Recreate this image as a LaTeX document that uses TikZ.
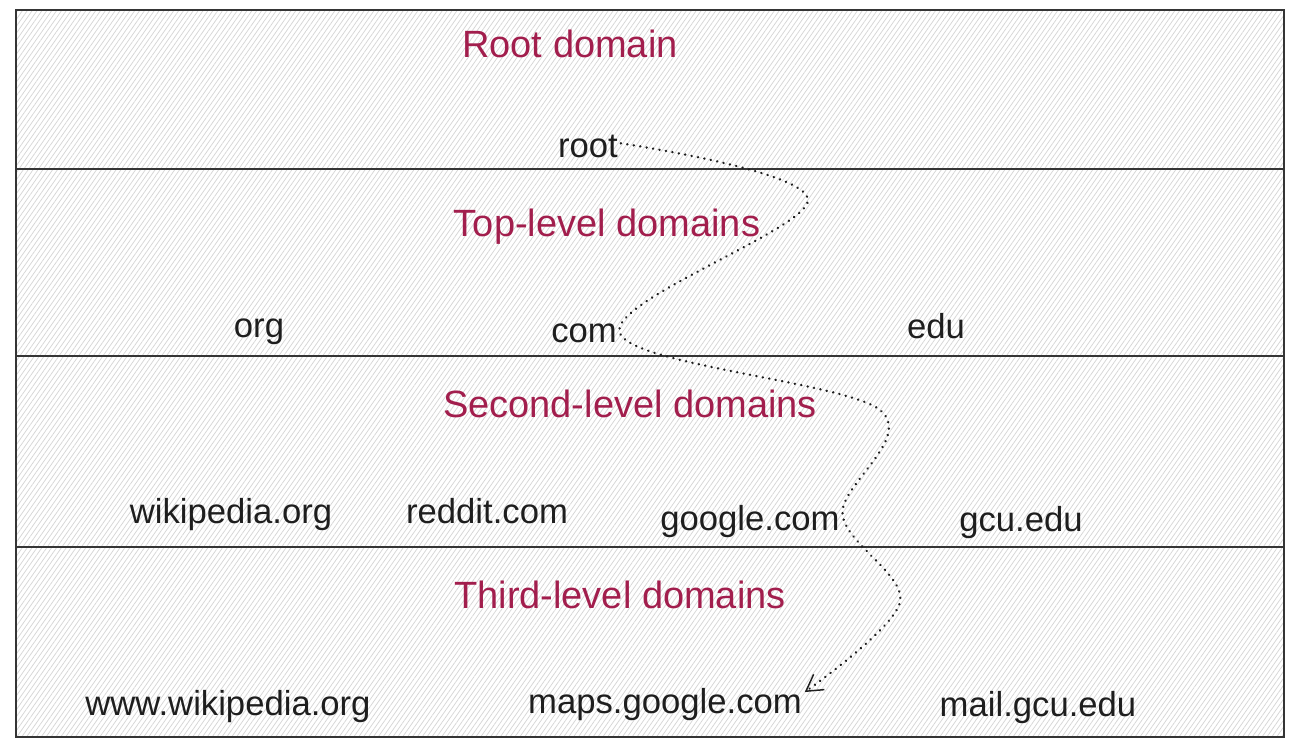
\documentclass[tikz,border=0pt]{standalone}
\usepackage{fontspec}
\setmainfont{Liberation Sans}
\usetikzlibrary{patterns.meta,arrows.meta}
\definecolor{crim}{HTML}{A21E4D}
\definecolor{ink}{HTML}{1E1E1E}
\begin{document}
\begin{tikzpicture}[x=0.75pt,y=-0.75pt,
  band/.style={draw=ink!90,line width=1.2pt,
    pattern={Lines[angle=55,distance=3pt,line width=0.55pt]},pattern color=gray!32},
  title/.style={anchor=base,text=crim,font=\fontsize{28.5}{32}\selectfont,inner sep=2pt},
  lbl/.style={anchor=base,text=ink,font=\fontsize{26}{30}\selectfont,inner sep=2pt},
  link/.style={ink,line width=1.9pt,dash pattern=on 0.1pt off 4.8pt,line cap=round}]
\useasboundingbox (0,0) rectangle (1300,747);
\fill[white] (0,0) rectangle (1300,747);
\draw[band] (16,10) rectangle (1284,169);
\draw[band] (16,169) rectangle (1284,356);
\draw[band] (16,356) rectangle (1284,547);
\draw[band] (16,547) rectangle (1284,737);

\node[title] (t1) at (570,57) {Root domain};
\node[lbl] (root) at (588,157) {root};
\node[title] (t2) at (607,236) {Top-level domains};
\node[lbl] (org) at (259,337) {org};
\node[lbl] (com) at (584,342) {com};
\node[lbl] (edu) at (936,338) {edu};
\node[title] (t3) at (630,417) {Second-level domains};
\node[lbl] (wiki) at (231,523) {wikipedia.org};
\node[lbl] (reddit) at (487,523) {reddit.com};
\node[lbl] (google) at (750,530) {google.com};
\node[lbl] (gcu) at (1021,531) {gcu.edu};
\node[title] (t4) at (620,608) {Third-level domains};
\node[lbl] (wwwwiki) at (228,715) {www.wikipedia.org};
\node[lbl] (maps) at (665,713) {maps.google.com};
\node[lbl] (mail) at (1038,716) {mail.gcu.edu};

\coordinate (k1) at (808,200);
\coordinate (k2) at (880,410);
\coordinate (k3) at (900,602);
\draw[link,-{Straight Barb[length=12pt,width=14pt,line width=1.1pt]}]
  plot[smooth,tension=0.55] coordinates {([yshift=2pt]root.east) (k1) (com.east) (k2) ([yshift=5pt]google.east) (k3) ([yshift=9pt]maps.east)};
\end{tikzpicture}
\end{document}
